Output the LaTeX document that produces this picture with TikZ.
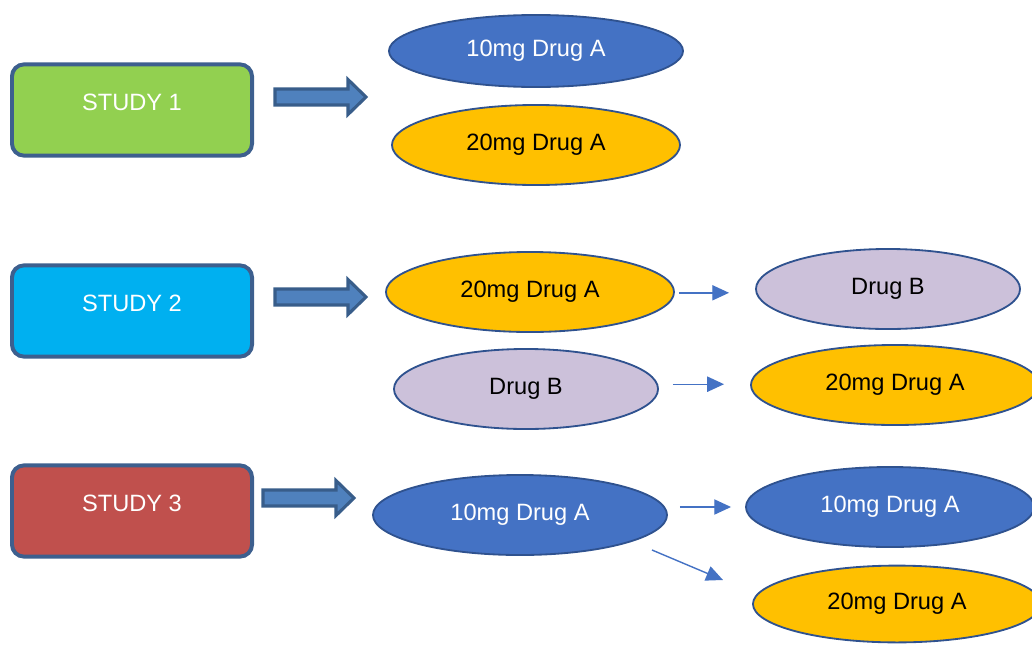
\documentclass[tikz,border=0pt]{standalone}
\usepackage{fontspec}
\setmainfont{Liberation Sans}
\usetikzlibrary{arrows.meta, shapes.geometric}
\definecolor{boxborder}{HTML}{3D5F8E}
\definecolor{studygreen}{HTML}{92D050}
\definecolor{studycyan}{HTML}{00B0F0}
\definecolor{studyred}{HTML}{C0504D}
\definecolor{drugblue}{HTML}{4472C4}
\definecolor{drugyellow}{HTML}{FFC000}
\definecolor{druglilac}{HTML}{CCC1DA}
\definecolor{ellborder}{HTML}{2F528F}
\definecolor{blockfill}{HTML}{4F81BD}
\definecolor{blockborder}{HTML}{385D8A}
\tikzset{%
	study box/.style={
		draw=boxborder,
		line width=2.8pt,
		rounded corners=0.3cm,
		minimum width=6cm,
		minimum height=2.28cm,
		text depth=0.4cm,
		text=white,
		font=\fontsize{16.8}{20}\selectfont
	},
	dose/.style={
		ellipse,
		draw=ellborder,
		line width=1.3pt,
		inner sep=0pt,
		minimum width=7.2cm,
		minimum height=2cm,
		font=\fontsize{16.8}{20}\selectfont
	},
	drug a10/.style={dose, fill=drugblue, text=white},
	drug a20/.style={dose, fill=drugyellow, text=black},
	drug b/.style={dose, fill=druglilac, text=black, minimum width=6.6cm},
	block arrow/.style={
		fill=blockfill,
		draw=blockborder,
		line width=2.2pt
	},
	switch/.style={
		draw=drugblue,
		line width=1pt,
		-{Triangle[length=0.42cm, width=0.38cm]}
	},
}
\begin{document}
\begin{tikzpicture}[x=0.025cm, y=-0.025cm]
	\useasboundingbox (0,0) rectangle (1032,645);
	\clip (0,0) rectangle (1032,645);
	
	% study boxes
	\node[study box, fill=studygreen] (study1) at (132,110) {STUDY 1};
	\node[study box, fill=studycyan] (study2) at (132,311) {STUDY 2};
	\node[study box, fill=studyred] (study3) at (132,511) {STUDY 3};
	
	% block arrows
	\foreach \y/\xa/\xb in {97/275/366, 297/275/366, 498/263/354} {
		\draw[block arrow] (\xa,\y-8) -- (\xb-18,\y-8) -- (\xb-18,\y-17.5) -- (\xb,\y)
			-- (\xb-18,\y+17.5) -- (\xb-18,\y+8) -- (\xa,\y+8) -- cycle;
	}
	
	% study 1
	\node[drug a10, minimum width=7.35cm, minimum height=1.8cm] (s1a) at (536,51) {10mg Drug A};
	\node[drug a20] (s1b) at (536,145) {20mg Drug A};
	
	% study 2
	\node[drug a20] (s2a) at (530,292) {20mg Drug A};
	\node[drug b] (s2b) at (888,289) {Drug B};
	\node[drug b] (s2c) at (526,389) {Drug B};
	\node[drug a20] (s2d) at (895,385) {20mg Drug A};
	
	% study 3
	\node[drug a10, minimum width=7.35cm] (s3a) at (520,515) {10mg Drug A};
	\node[drug a10] (s3b) at (890,507) {10mg Drug A};
	\node[drug a20, minimum height=1.92cm] (s3c) at (897,604) {20mg Drug A};
	
	% crossover arrows
	\draw[switch, shorten <=0.1cm, shorten >=0.65cm] ([yshift=-0.02cm]s2a.east) -- ([yshift=-0.02cm]s2a.east -| s2b.west);
	\draw[switch, shorten <=0.35cm, shorten >=0.65cm] ([yshift=0.12cm]s2c.east) -- ([yshift=0.12cm]s2c.east -| s2d.west);
	\draw[switch, shorten <=0.3cm, shorten >=0.35cm] (s3a.east |- s3b.west) -- (s3b.west);
	\coordinate (s3from) at (652,550);
	\coordinate (s3to) at (723,580);
	\draw[switch] (s3from) -- (s3to);
\end{tikzpicture}
\end{document}
